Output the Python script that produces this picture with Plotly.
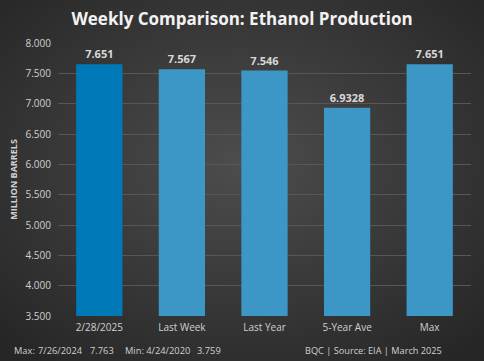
import plotly.graph_objects as go
import base64

categories = ["2/28/2025", "Last Week", "Last Year", "5-Year Ave", "Max"]
values = [7.651, 7.567, 7.546, 6.9328, 7.651]
value_labels = ["7.651", "7.567", "7.546", "6.9328", "7.651"]
bar_colors = ["#0079B8", "#3D97C6", "#3D97C6", "#3D97C6", "#3D97C6"]
tick_vals = [3.5, 4.0, 4.5, 5.0, 5.5, 6.0, 6.5, 7.0, 7.5, 8.0]
footer_left_parts = ["Max:", "7/26/2024", "7.763", "Min: 4/24/2020", "3.759"]
footer_right = "BQC | Source: EIA | March 2025"

FONT = "Open Sans"
PLOT_L, PLOT_W = 58, 413

svg = (
    '<svg xmlns="http://www.w3.org/2000/svg" width="484" height="361">'
    '<defs><radialGradient id="g" cx="50%" cy="45%" r="70%">'
    '<stop offset="0%" stop-color="#4d4d4d"/>'
    '<stop offset="100%" stop-color="#262626"/>'
    '</radialGradient></defs>'
    '<rect width="484" height="361" fill="url(#g)"/></svg>'
)
bg_uri = "data:image/svg+xml;base64," + base64.b64encode(svg.encode()).decode()

fig = go.Figure()
fig.add_trace(go.Bar(
    x=categories,
    y=values,
    marker=dict(color=bar_colors, line=dict(width=0)),
    text=value_labels,
    texttemplate="<b>%{text}</b>",
    textposition="outside",
    textfont=dict(family=FONT, size=11, color="#d9d9d9"),
    cliponaxis=False,
    hoverinfo="skip",
))

footer_px = [12, 36, 88, 123, 195]
annotations = [
    dict(text=t, xref="paper", yref="paper", x=(px - PLOT_L) / PLOT_W, y=-0.128,
         xanchor="left", yanchor="middle", showarrow=False,
         font=dict(family=FONT, size=9.3, color="#d0d0d0"))
    for t, px in zip(footer_left_parts, footer_px)
]
annotations.append(
    dict(text=footer_right, xref="paper", yref="paper", x=0.935, y=-0.128,
         xanchor="right", yanchor="middle", showarrow=False,
         font=dict(family=FONT, size=9.2, color="#d0d0d0"))
)

fig.update_layout(
    width=484, height=361,
    paper_bgcolor="#333333",
    plot_bgcolor="rgba(0,0,0,0)",
    margin=dict(l=58, r=13, t=43, b=45),
    bargap=0.44,
    showlegend=False,
    images=[dict(source=bg_uri, xref="paper", yref="paper", x=-58/413, y=1 + 43/273,
                 sizex=484/413, sizey=361/273, xanchor="left", yanchor="top",
                 sizing="stretch", layer="below")],
    title=dict(
        text="<b>Weekly Comparison: Ethanol Production</b>",
        font=dict(family=FONT, size=17, color="#f2f2f2"),
        x=0.5, xanchor="center", xref="container",
        y=0.948, yanchor="middle", yref="container",
    ),
    xaxis=dict(
        tickfont=dict(family=FONT, size=10, color="#d0d0d0"),
        ticklabelstandoff=4,
        showgrid=False, showline=False, ticks="",
    ),
    yaxis=dict(
        range=[3.5, 8.0],
        tickvals=tick_vals,
        tickformat=".3f",
        tickfont=dict(family=FONT, size=10, color="#d0d0d0"),
        ticklabelstandoff=6,
        gridcolor="#575757", gridwidth=1,
        zeroline=False, showline=False, ticks="",
        title=dict(text="<b>MILLION BARRELS</b>",
                   font=dict(family=FONT, size=9, color="#d0d0d0"),
                   standoff=6),
    ),
    annotations=annotations,
)

fig.write_html(
    "out.html",
    config={"displayModeBar": False},
    post_script="document.body.style.margin='0';document.body.style.overflow='hidden';",
)
